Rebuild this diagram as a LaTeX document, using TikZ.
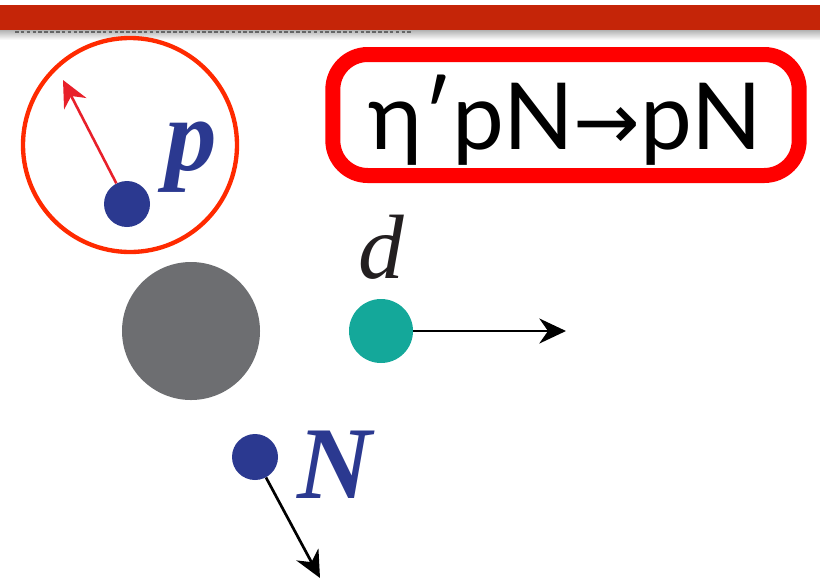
\documentclass[tikz,border=0pt]{standalone}
\usepackage{fontspec}
\newfontfamily\boxfont{Lato}
\newfontfamily\symfont{DejaVu Sans}
\newfontfamily\lblfont{Liberation Serif}
\usetikzlibrary{arrows.meta,positioning}

\definecolor{barred}{RGB}{197,37,8}
\definecolor{ringred}{RGB}{255,42,0}
\definecolor{arrred}{RGB}{232,32,42}
\definecolor{nucblue}{RGB}{43,57,144}
\definecolor{nucgray}{RGB}{109,110,113}
\definecolor{dteal}{RGB}{20,168,154}

\tikzset{
  dot/.style={circle, inner sep=0pt, minimum size=#1},
  mom/.style={-{Stealth[length=8mm,width=7.5mm,inset=2.6mm]}, line width=2.3pt},
  lbl/.style={inner sep=0pt, nucblue, font=\lblfont\bfseries\itshape\fontsize{88}{88}\selectfont},
}

\begin{document}
\begin{tikzpicture}[x=0.03cm, y=-0.03cm]
\useasboundingbox (0,0) rectangle (820,580);

% header band
\shade[top color=gray!60, bottom color=white] (0,30) rectangle (820,40);
\fill[barred] (0,5) rectangle (820,30);
\draw[gray!80!black, line width=1.2pt, dash pattern=on 3pt off 2pt] (15,32) -- (413,32);

% process label
\node (proc) [draw=red, line width=0.45cm, rounded corners=1.05cm,
    minimum width=13.99cm, minimum height=3.63cm, inner sep=0pt]
    at (566,115) {};
\node [font=\boxfont\fontsize{79}{79}\selectfont, anchor=base] at (565,149)
    {η′pN{\symfont\fontsize{68}{68}\selectfont →}pN};

% spectator proton inside its ring
\node (ring) [dot=6.42cm, draw=ringred, line width=0.13cm] at (130,145) {};
\node (pdot) [dot=1.38cm, fill=nucblue] at (127,204) {};
\coordinate (ptip) at (63,80);
\draw [mom, arrred, line width=2.2pt] (pdot) -- (ptip);
\node (plbl) [lbl, anchor=base west] at (165,170) {p};

% residual nucleus and the outgoing deuteron
\node (core) [dot=4.14cm, fill=nucgray] at (191,331) {};
\node (deut) [dot=1.92cm, fill=dteal] at (381,331) {};
\coordinate (dtip) at (566,331);
\draw [mom] (deut) -- (dtip);
\node (dlbl) [inner sep=0pt, anchor=base, text={rgb,255:red,35;green,31;blue,32},
    font=\lblfont\itshape\fontsize{78}{78}\selectfont] at (381,278) {d};

% recoil nucleon
\node (ndot) [dot=1.38cm, fill=nucblue] at (255,457) {};
\coordinate (ntip) at (320,578);
\draw [mom] (ndot) -- (ntip);
\node (nlbl) [lbl, anchor=base west] at (297,498) {N};

\end{tikzpicture}
\end{document}
